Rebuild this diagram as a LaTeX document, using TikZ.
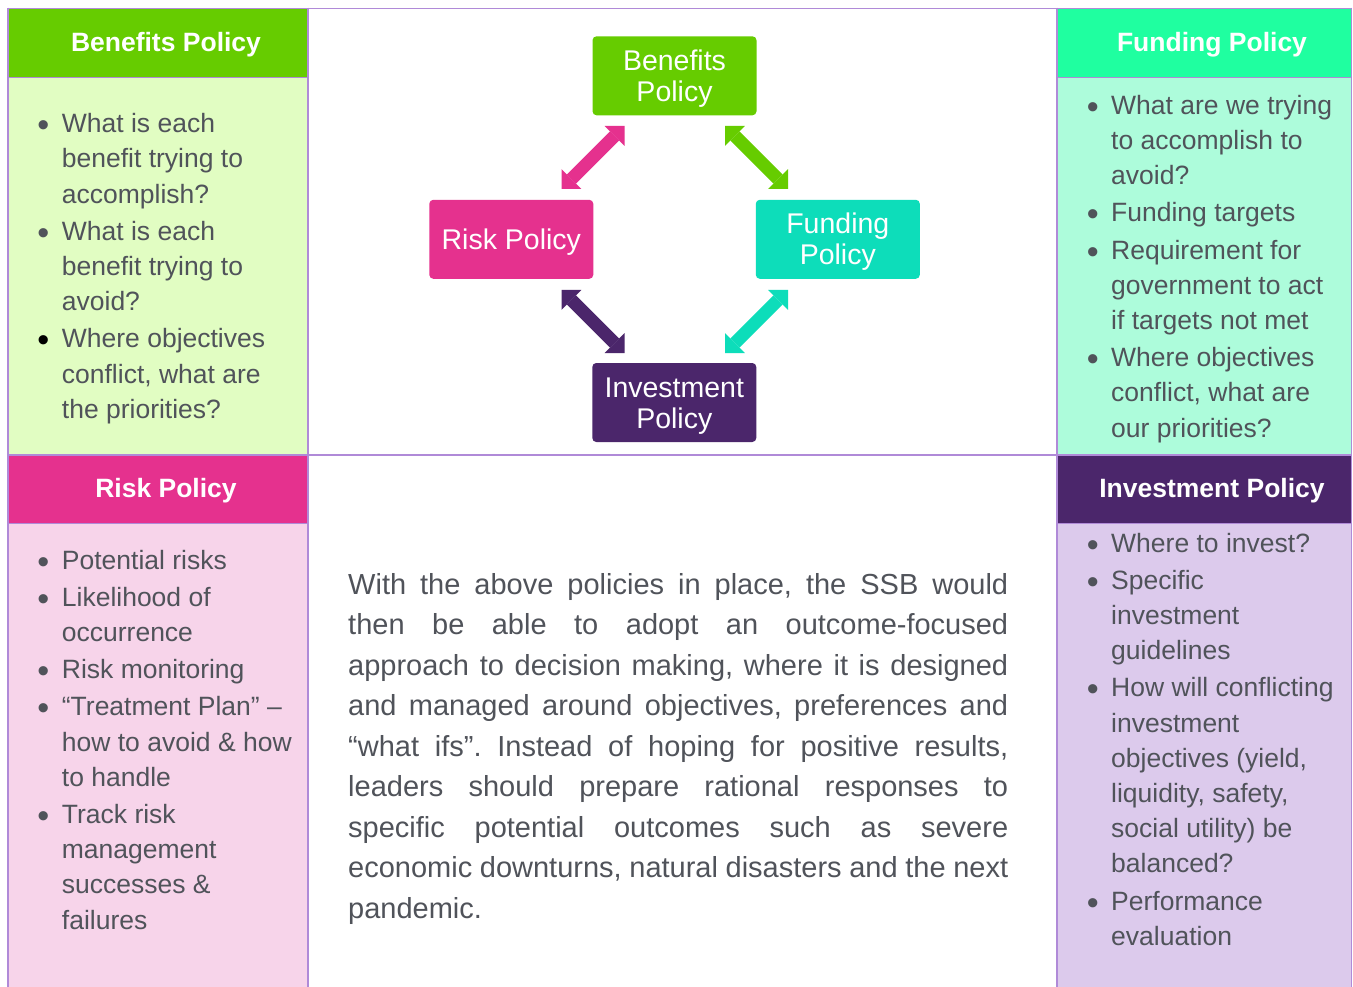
\documentclass[tikz,border=0pt]{standalone}
\usepackage{fontspec}
\setmainfont{Liberation Sans}
\usetikzlibrary{arrows.meta}
\frenchspacing

\definecolor{gridline}{HTML}{B08AD8}
\definecolor{benhead}{HTML}{66CC00}
\definecolor{benbody}{HTML}{E1FDC2}
\definecolor{funhead}{HTML}{1FFFA0}
\definecolor{funbody}{HTML}{ADFCDB}
\definecolor{riskhead}{HTML}{E5318E}
\definecolor{riskbody}{HTML}{F7D4EA}
\definecolor{invhead}{HTML}{4B266B}
\definecolor{invbody}{HTML}{DCCAEC}
\definecolor{funbox}{HTML}{0DDDBA}
\definecolor{bodytext}{HTML}{50535A}

% bullet list set in a top-aligned box; manual line breaks inside items
\newcommand{\bulletlist}[1]{%
  \begin{minipage}[t]{250pt}\fontsize{26.5}{35.2}\selectfont\raggedright
  \setlength{\parskip}{2pt}\setlength{\parindent}{0pt}#1\end{minipage}}
\newcommand{\bigdot}{\raisebox{-4pt}{\fontsize{34}{34}\selectfont\textbullet}}
\newcommand{\bitem}[1]{\par\noindent\llap{\makebox[37pt]{\bigdot}}#1\par}
\newcommand{\bitemk}[1]{\par\noindent\llap{\makebox[37pt]{\textcolor{black}{\bigdot}}}#1\par}
% invisible strut that lowers the text inside the cycle boxes a little
\newcommand{\boxstrut}{\rule{0pt}{26pt}}

\tikzset{
  gridrule/.style={draw=gridline, line width=1.8pt},
  headtext/.style={anchor=base, text=white, inner sep=0pt,
    font=\fontsize{26.5}{30}\selectfont\bfseries},
  listtext/.style={anchor=base west, inner sep=0pt, text=bodytext},
  polbox/.style={rounded corners=4pt, minimum width=164pt, minimum height=79pt,
    inner sep=0pt, text=white, align=center,
    font=\fontsize{28.5}{31}\selectfont},
  dblarrow/.style={line width=13pt,
    {Triangle[length=14pt,width=28pt,line width=0pt]}-{Triangle[length=14pt,width=28pt,line width=0pt]}}
}

\begin{document}
\begin{tikzpicture}[x=1pt,y=-1pt]
\useasboundingbox (0,0) rectangle (1353,987);
\fill[white] (0,0) rectangle (1353,987);

% cell fills
\fill[benhead]  (8,8.5)     rectangle (308,77.5);
\fill[benbody]  (8,77.5)    rectangle (308,455);
\fill[funhead]  (1057,8.5)  rectangle (1351.5,77.5);
\fill[funbody]  (1057,77.5) rectangle (1351.5,455);
\fill[riskhead] (8,455)     rectangle (308,523.5);
\fill[riskbody] (8,523.5)   rectangle (308,990);
\fill[invhead]  (1057,455)  rectangle (1351.5,523.5);
\fill[invbody]  (1057,523.5) rectangle (1351.5,990);

% table rules
\draw[gridrule] (8,8.5) -- (1351.5,8.5);
\draw[gridrule] (8,455) -- (1351.5,455);
\draw[gridrule] (8,77.5) -- (308,77.5);
\draw[gridrule] (1057,77.5) -- (1351.5,77.5);
\draw[gridrule] (8,523.5) -- (308,523.5);
\draw[gridrule] (1057,523.5) -- (1351.5,523.5);
\draw[gridrule] (8,7.6) -- (8,990);
\draw[gridrule] (308,7.6) -- (308,990);
\draw[gridrule] (1057,7.6) -- (1057,990);
\draw[gridrule] (1351.5,7.6) -- (1351.5,990);

% headings
\node[headtext] (hben)  at (166,51.5)   {Benefits Policy};
\node[headtext] (hfun)  at (1212,51.5)  {Funding Policy};
\node[headtext] (hrisk) at (166,497.5)  {Risk Policy};
\node[headtext] (hinv)  at (1212,497.5) {Investment Policy};

% column lists
\node[listtext] (lben) at (61.7,132.7) {\bulletlist{%
  \bitem{What is each\\benefit trying to\\accomplish?}
  \bitem{What is each\\benefit trying to\\avoid?}
  \bitemk{Where objectives\\conflict, what are\\the priorities?}}};

\node[listtext] (lfun) at (1111,114.4) {\bulletlist{%
  \bitem{What are we trying\\to accomplish to\\avoid?}
  \bitem{Funding targets}
  \bitem{Requirement for\\government to act\\if targets not met}
  \bitem{Where objectives\\conflict, what are\\our priorities?}}};

\node[listtext] (lrisk) at (61.7,569) {\bulletlist{%
  \bitem{Potential risks}
  \bitem{Likelihood of\\occurrence}
  \bitem{Risk monitoring}
  \bitem{“Treatment Plan” –\\how to avoid \& how\\to handle}
  \bitem{Track risk\\management\\successes \&\\failures}}};

\node[listtext] (linv) at (1111,552) {\bulletlist{%
  \bitem{Where to invest?}
  \bitem{Specific\\investment\\guidelines}
  \bitem{How will conflicting\\investment\\objectives (yield,\\liquidity, safety,\\social utility) be\\balanced?}
  \bitem{Performance\\evaluation}}};

% summary paragraph
\node[listtext] (summary) at (348,594) {%
  \begin{minipage}[t]{660pt}\fontsize{29}{40.5}\selectfont\setlength{\parindent}{0pt}%
  With the above policies in place, the SSB would\linebreak
  then be able to adopt an outcome-focused\linebreak
  approach to decision making, where it is designed\linebreak
  and managed around objectives, preferences and\linebreak
  “what ifs”. Instead of hoping for positive results,\linebreak
  leaders should prepare rational responses to\linebreak
  specific potential outcomes such as severe\linebreak
  economic downturns, natural disasters and the next\linebreak
  pandemic.
  \end{minipage}};

% policy cycle
\node[polbox, fill=benhead]  (ben)  at (674.5,75.8)  {\boxstrut Benefits\\Policy};
\node[polbox, fill=riskhead] (risk) at (511.3,239.3) {\boxstrut Risk Policy};
\node[polbox, fill=funbox]   (fun)  at (837.8,239.3) {\boxstrut Funding\\Policy};
\node[polbox, fill=invhead]  (inv)  at (674.3,402.5) {\boxstrut Investment\\Policy};

\coordinate (rb1) at (561.5,189);
\coordinate (rb2) at (624.5,126);
\coordinate (bf1) at (725,126);
\coordinate (bf2) at (788,189);
\coordinate (ri1) at (561.5,290);
\coordinate (ri2) at (624.5,353);
\coordinate (fi1) at (788,290);
\coordinate (fi2) at (725,353);

\draw[dblarrow, riskhead] (rb1) -- (rb2);
\draw[dblarrow, benhead]  (bf1) -- (bf2);
\draw[dblarrow, invhead]  (ri1) -- (ri2);
\draw[dblarrow, funbox]   (fi1) -- (fi2);
\end{tikzpicture}
\end{document}
